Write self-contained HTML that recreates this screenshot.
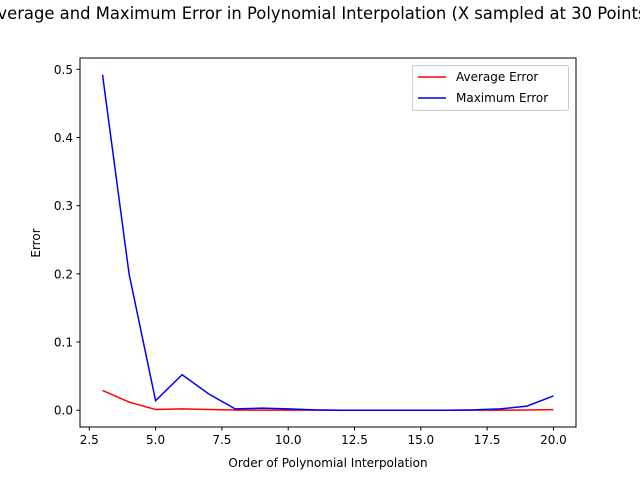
<!DOCTYPE html>
<html><head><meta charset="utf-8"><style>
body{margin:0;background:#fff;overflow:hidden}
svg text{font-family:"DejaVu Sans","Liberation Sans",sans-serif;fill:#000}
</style></head><body>
<svg id="chart" width="640" height="480" xmlns="http://www.w3.org/2000/svg">
<rect width="640" height="480" fill="#fff"/>
<text x="320" y="19" font-size="16.4" text-anchor="middle">Average and Maximum Error in Polynomial Interpolation (X sampled at 30 Points)</text>
<g id="ticks"></g>
<g id="series"></g>
<rect x="80" y="58" width="496" height="369" fill="none" stroke="#000" stroke-width="1"/>
<text x="328" y="467" font-size="12" text-anchor="middle">Order of Polynomial Interpolation</text>
<text transform="translate(40,243) rotate(-90)" font-size="12" text-anchor="middle">Error</text>
<g>
<rect x="412.5" y="65.5" width="156" height="45" rx="2" fill="#fff" stroke="#ccc"/>
<line x1="418" y1="77" x2="446" y2="77" stroke="red" stroke-width="1.5"/>
<text x="456" y="81" font-size="12">Average Error</text>
<line x1="418" y1="98" x2="446" y2="98" stroke="blue" stroke-width="1.5"/>
<text x="456" y="102" font-size="12">Maximum Error</text>
</g>
</svg>
<script>
const orders=[3,4,5,6,7,8,9,10,11,12,13,14,15,16,17,18,19,20];
const avgError=[0.029,0.012,0.001,0.002,0.001,0.0003,0.0002,0.0002,0.0001,0,0,0,0,0,0.0001,0.0002,0.0003,0.0008];
const maxError=[0.492,0.2,0.014,0.052,0.024,0.002,0.003,0.002,0.0005,0,0,0,0,0,0.0005,0.002,0.006,0.021];
const xTicks=[2.5,5.0,7.5,10.0,12.5,15.0,17.5,20.0];
const yTicks=[0.0,0.1,0.2,0.3,0.4,0.5];
const L=80,R=576,T=58,B=427,xmin=2.15,xmax=20.85,ymin=-0.0246,ymax=0.5166;
const sx=v=>L+(v-xmin)/(xmax-xmin)*(R-L);
const sy=v=>B-(v-ymin)/(ymax-ymin)*(B-T);
const NS="http://www.w3.org/2000/svg";
const tg=document.getElementById('ticks'),sg=document.getElementById('series');
function mk(tag,attrs,parent){const e=document.createElementNS(NS,tag);for(const k in attrs)e.setAttribute(k,attrs[k]);parent.appendChild(e);return e;}
xTicks.forEach(v=>{const x=sx(v);
 const l=mk('line',{x1:x,x2:x,y1:B,y2:B+3.5,stroke:'#000'},tg);
 
 
 const t=mk('text',{x:x,y:B+17,'font-size':12,'text-anchor':'middle'},tg);t.textContent=v.toFixed(1);
 
 });
yTicks.forEach(v=>{const y=sy(v);
 const l=mk('line',{x1:L-3.5,x2:L,y1:y,y2:y,stroke:'#000'},tg);
 
 
 const t=mk('text',{x:L-7,y:y+4.5,'font-size':12,'text-anchor':'end'},tg);t.textContent=v.toFixed(1);
 
 });
function line(vals,color,name){const p=mk('polyline',{points:orders.map((o,i)=>sx(o)+','+sy(vals[i])).join(' '),fill:'none',stroke:color,'stroke-width':1.5},sg);
 
 }
line(avgError,'red','average-error-line');
line(maxError,'blue','maximum-error-line');
</script>
</body></html>
